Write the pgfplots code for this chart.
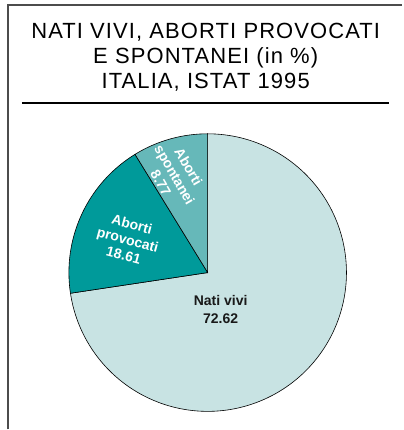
\documentclass[border=0pt]{standalone}
\usepackage{pgfplots}
\pgfplotsset{compat=1.18}
\usepackage{fontspec}
\setmainfont{Liberation Sans}
\newfontfamily\titlefont[LetterSpace=5]{Liberation Sans}
\definecolor{nati}{HTML}{C8E3E3}
\definecolor{provo}{HTML}{009A9A}
\definecolor{spont}{HTML}{66B8B9}
\begin{document}
\begin{tikzpicture}
% values (%)
\pgfmathsetmacro{\vnati}{72.62}
\pgfmathsetmacro{\vprov}{18.61}
\pgfmathsetmacro{\vspon}{8.77}
\pgfmathsetmacro{\aS}{90}
\pgfmathsetmacro{\aP}{\aS+3.6*\vspon}
\pgfmathsetmacro{\aN}{\aP+3.6*\vprov}
\pgfmathsetmacro{\aE}{\aN+3.6*\vnati}
\begin{axis}[scale only axis, width=403pt, height=430pt,
  xmin=0, xmax=403, ymin=0, ymax=430, hide axis, clip=false]
\path (axis cs:0,0) rectangle (axis cs:403,430);
\addplot[fill=nati, draw=black, line width=0.6pt, domain=\aN:\aE, samples=150, variable=\t]
  ({208+139*cos(\t)},{157+139*sin(\t)}) -- (axis cs:208,157) -- cycle;
\addplot[fill=provo, draw=black, line width=0.6pt, domain=\aP:\aN, samples=50, variable=\t]
  ({208+139*cos(\t)},{157+139*sin(\t)}) -- (axis cs:208,157) -- cycle;
\addplot[fill=spont, draw=black, line width=0.6pt, domain=\aS:\aP, samples=30, variable=\t]
  ({208+139*cos(\t)},{157+139*sin(\t)}) -- (axis cs:208,157) -- cycle;
% labels
\node[align=center, font=\bfseries\fontsize{14}{18}\selectfont, text=black!90] at (axis cs:221,120) {Nati vivi\\72.62};
\node[rotate=-15, align=center, inner sep=0pt, font=\bfseries\fontsize{14}{16}\selectfont, text=white] at (axis cs:128,190) {Aborti\\provocati\\18.61};
\node[rotate=-60, align=center, inner sep=0pt, font=\bfseries\fontsize{14}{16}\selectfont, text=white] at (axis cs:175,255) {Aborti\\spontanei\\8.77};
% frame
\draw[line width=1.3pt, black!70] (axis cs:8,0) -- (axis cs:8,425) -- (axis cs:403,425);
% title
\node[anchor=base, font=\titlefont\fontsize{22}{25}\selectfont] at (axis cs:206,391) {NATI VIVI, ABORTI PROVOCATI};
\node[anchor=base, font=\titlefont\fontsize{22}{25}\selectfont] at (axis cs:206,366) {E SPONTANEI (in \%)};
\node[anchor=base, font=\titlefont\fontsize{22}{25}\selectfont] at (axis cs:206,341) {ITALIA, ISTAT 1995};
\draw[line width=2pt, black] (axis cs:22,327) -- (axis cs:390,327);
\end{axis}
\end{tikzpicture}
\end{document}
